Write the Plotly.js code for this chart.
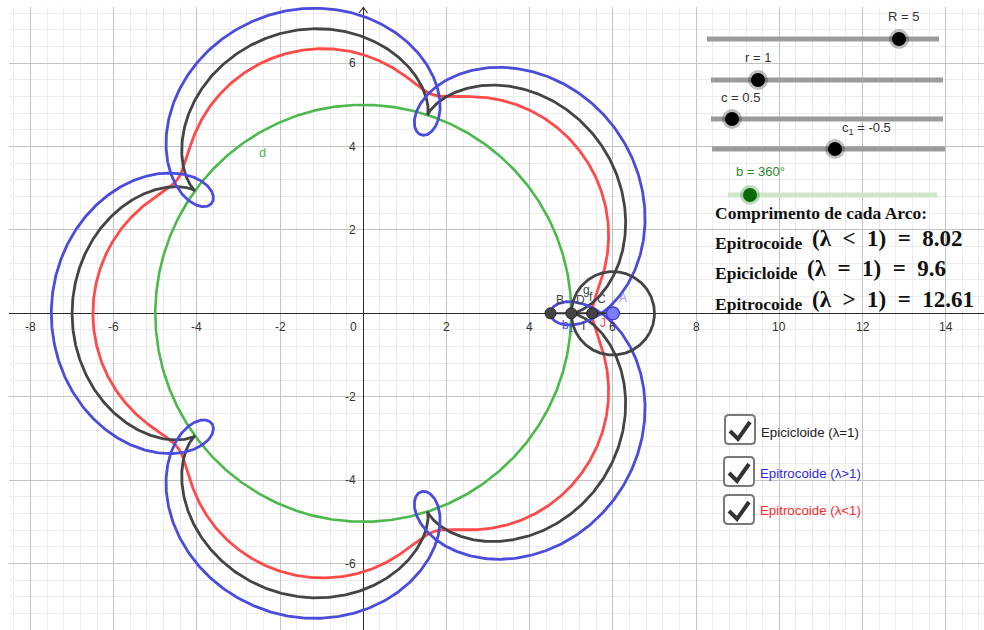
<!DOCTYPE html>
<html>
<head>
<meta charset="utf-8">
<script src="https://cdn.plot.ly/plotly-3.0.1.min.js"></script>
<style>
  html, body { margin: 0; padding: 0; background: #ffffff; }
  #plot { width: 984px; height: 630px; }
</style>
</head>
<body>
<div id="plot"></div>
<script>
// Slider parameters: fixed circle R, rolling circle r, offsets c and c1, sweep angle b (degrees)
const sliderNames = ['R', 'r', 'c', 'c1', 'b'];
const sliderValues = [5, 1, 0.5, -0.5, 360];

// Arc length summary
const curveNames = ['Epitrocoide', 'Epicicloide', 'Epitrocoide'];
const curveRelations = ['<', '=', '>'];
const arcLengths = [8.02, 9.6, 12.61];

// Checkbox captions
const checkboxLabels = ['Epicicloide (λ=1)', 'Epitrocoide (λ>1)', 'Epitrocoide (λ<1)'];

// Axis tick labels
const xTicks = [-8, -6, -4, -2, 0, 2, 4, 6, 8, 10, 12, 14];
const yTicks = [-6, -4, -2, 2, 4, 6];

// ---------------------------------------------------------------
const [R, r, c, c1, bDeg] = sliderValues;

const COL_BLACK = '#444444';
const COL_RED = '#ff4a4a';
const COL_BLUE = '#4b4bdc';
const COL_GREEN = '#4cb94c';

// Plot frame in page pixels
const W = 984, H = 630, ML = 9, MT = 7;
const PW = W - ML, PH = H - MT;
const px = x => (x - ML) / PW;
const py = y => 1 - (y - MT) / PH;

// Trochoid traced by a point at distance d from the centre of the rolling circle
function epitrochoid(d) {
  const xs = [], ys = [];
  const steps = 1800;
  const tMax = bDeg * Math.PI / 180;
  const k = (R + r) / r;
  for (let i = 0; i <= steps; i++) {
    const t = tMax * i / steps;
    xs.push((R + r) * Math.cos(t) - d * Math.cos(k * t));
    ys.push((R + r) * Math.sin(t) - d * Math.sin(k * t));
  }
  return { xs, ys };
}

function circle(cx, cy, rad) {
  const xs = [], ys = [];
  for (let i = 0; i <= 720; i++) {
    const a = 2 * Math.PI * i / 720;
    xs.push(cx + rad * Math.cos(a));
    ys.push(cy + rad * Math.sin(a));
  }
  return { xs, ys };
}

const dEqual = r;        // λ = 1
const dSmall = r - c;    // λ < 1
const dLarge = r - c1;   // λ > 1

const base = circle(0, 0, R);
const rolling = circle(R + r, 0, r);
const cycEq = epitrochoid(dEqual);
const cycSmall = epitrochoid(dSmall);
const cycLarge = epitrochoid(dLarge);

const centre = R + r;
const ptA = centre, ptD = centre - dEqual, ptC = centre - dSmall, ptB = centre - dLarge;

const traces = [
  { x: base.xs, y: base.ys, mode: 'lines', line: { color: COL_GREEN, width: 2.6 }, hoverinfo: 'skip' },
  { x: cycSmall.xs, y: cycSmall.ys, mode: 'lines', line: { color: COL_RED, width: 2.8 }, hoverinfo: 'skip' },
  { x: cycEq.xs, y: cycEq.ys, mode: 'lines', line: { color: COL_BLACK, width: 2.8 }, hoverinfo: 'skip' },
  { x: cycLarge.xs, y: cycLarge.ys, mode: 'lines', line: { color: COL_BLUE, width: 2.8 }, hoverinfo: 'skip' },
  { x: rolling.xs, y: rolling.ys, mode: 'lines', line: { color: COL_BLACK, width: 2.8 }, hoverinfo: 'skip' },
  // segments from the tracing points to the centre
  { x: [ptB, ptA], y: [0, 0], mode: 'lines', line: { color: '#333333', width: 2 }, hoverinfo: 'skip' },
  // tracing points
  { x: [ptB, ptD, ptC], y: [0, 0, 0], mode: 'markers',
    marker: { size: 11, color: '#444444', line: { color: '#222222', width: 1 } }, hoverinfo: 'skip' },
  // centre of the rolling circle
  { x: [ptA], y: [0], mode: 'markers',
    marker: { size: 13, color: '#7c7cff', line: { color: '#3434c0', width: 1.2 } }, hoverinfo: 'skip' }
];

const annotations = [];
const shapes = [];

const tickFont = { family: 'Liberation Sans, Arial, sans-serif', size: 12, color: '#333333' };

// Axis tick labels drawn next to the axes
xTicks.forEach(v => {
  annotations.push({
    x: v, y: 0, xref: 'x', yref: 'y', text: String(v), showarrow: false,
    xanchor: v === 0 ? 'right' : 'center', yanchor: 'top',
    xshift: v === 0 ? -4 : 0, yshift: -5, font: tickFont
  });
});
yTicks.forEach(v => {
  annotations.push({
    x: 0, y: v, xref: 'x', yref: 'y', text: String(v), showarrow: false,
    xanchor: 'right', yanchor: 'middle', xshift: -5, font: tickFont
  });
});

// y-axis arrow head
shapes.push({
  type: 'path', xref: 'paper', yref: 'paper',
  path: `M ${px(359)} ${py(13)} L ${px(363.3)} ${py(7.5)} L ${px(367.6)} ${py(13)}`,
  line: { color: '#333333', width: 1.2 }
});

// Labels around the tracing points (offsets in pixels: right, up)
const ptFont = (col, sz) => ({ family: 'Liberation Sans, Arial, sans-serif', size: sz || 12, color: col });
[
  ['B', ptB, 9, 13, '#444444'],
  ['D', ptD, 9, 13, '#444444'],
  ['g', ptD, 15, 23, '#444444'],
  ['f', ptC, -1, 16, '#444444'],
  ['C', ptC, 9, 14, '#444444'],
  ['A', ptA, 10, 15, '#9a9aff'],
  ['b<sub>1</sub>', ptD, -3, -13, COL_BLUE],
  ['I', ptC, -9, -13, '#444444'],
  ['J', ptC, 11, -10, COL_RED]
].forEach(([t, xv, dx, dy, col]) => {
  annotations.push({
    x: xv, y: 0, xref: 'x', yref: 'y', text: t, showarrow: false,
    xanchor: 'center', yanchor: 'middle', xshift: dx, yshift: dy,
    font: ptFont(col, 12)
  });
});

// Label of the fixed circle
annotations.push({
  x: -2.42, y: 3.85, xref: 'x', yref: 'y',
  text: 'd', showarrow: false, font: ptFont(COL_GREEN, 13)
});

// Sliders
const sliderGeom = [
  { x0: 707, x1: 939, y: 39, knob: 899, lx: 903, ly: 16 },
  { x0: 711, x1: 943, y: 80, knob: 758, lx: 758, ly: 58 },
  { x0: 711, x1: 943, y: 119, knob: 732, lx: 740, ly: 97 },
  { x0: 712, x1: 945, y: 149, knob: 835, lx: 866, ly: 128 },
  { x0: 728, x1: 937, y: 195, knob: 750, lx: 760, ly: 172 }
];
const sliderLabels = ['R = ' + R, 'r = ' + r, 'c = ' + c, 'c<sub>1</sub> = ' + c1, 'b = ' + bDeg + '°'];
sliderGeom.forEach((g, i) => {
  const green = i === 4;
  shapes.push({
    type: 'line', xref: 'paper', yref: 'paper',
    x0: px(g.x0), x1: px(g.x1), y0: py(g.y), y1: py(g.y),
    line: { color: green ? '#cfe6c9' : '#9b9b9b', width: 5 }
  });
  const halo = 10, dot = 7;
  shapes.push({
    type: 'circle', xref: 'paper', yref: 'paper',
    x0: px(g.knob - halo), x1: px(g.knob + halo), y0: py(g.y + halo), y1: py(g.y - halo),
    fillcolor: green ? 'rgba(0,110,0,0.25)' : 'rgba(0,0,0,0.25)', line: { width: 0 }
  });
  shapes.push({
    type: 'circle', xref: 'paper', yref: 'paper',
    x0: px(g.knob - dot), x1: px(g.knob + dot), y0: py(g.y + dot), y1: py(g.y - dot),
    fillcolor: green ? '#0b6b0b' : '#000000', line: { width: 0 }
  });
  annotations.push({
    x: px(g.lx), y: py(g.ly), xref: 'paper', yref: 'paper', text: sliderLabels[i],
    showarrow: false, xanchor: 'center', yanchor: 'middle',
    font: { family: 'Liberation Sans, Arial, sans-serif', size: 13, color: green ? '#2a8a2a' : '#333333' }
  });
});

// Arc length text block
const serifBold = (sz) => ({ family: 'Liberation Serif, Times New Roman, serif', size: sz, color: '#111111', weight: 'bold' });
annotations.push({
  x: px(713), y: py(213), xref: 'paper', yref: 'paper', text: '<b>Comprimento de cada Arco:</b>',
  showarrow: false, xanchor: 'left', yanchor: 'middle', font: serifBold(17.5)
});
const rowY = [241, 271, 302];
const formulaX = [810, 805, 810];
const sp = '\u2002';
curveNames.forEach((nm, i) => {
  annotations.push({
    x: px(713), y: py(rowY[i] + 2), xref: 'paper', yref: 'paper', text: '<b>' + nm + '</b>',
    showarrow: false, xanchor: 'left', yanchor: 'middle', font: serifBold(17.5)
  });
  const rel = curveRelations[i] === '<' ? '&lt;' : (curveRelations[i] === '>' ? '&gt;' : '=');
  annotations.push({
    x: px(formulaX[i]), y: py(rowY[i] - 3), xref: 'paper', yref: 'paper',
    text: '<b>(λ' + sp + rel + sp + '1)' + sp + '=' + sp + arcLengths[i] + '</b>',
    showarrow: false, xanchor: 'left', yanchor: 'middle', font: serifBold(23)
  });
});

// Checkboxes
const boxGeom = [
  { x0: 725, y0: 415, col: '#222222', ty: 432 },
  { x0: 724, y0: 457, col: '#2a2ae6', ty: 473 },
  { x0: 724, y0: 495, col: '#ff2a2a', ty: 510 }
];
function roundRect(x0, y0, w, h, rr) {
  const x1 = x0 + w, y1 = y0 + h;
  const P = (x, y) => `${px(x)} ${py(y)}`;
  return `M ${P(x0 + rr, y0)} L ${P(x1 - rr, y0)} Q ${P(x1, y0)} ${P(x1, y0 + rr)} ` +
         `L ${P(x1, y1 - rr)} Q ${P(x1, y1)} ${P(x1 - rr, y1)} L ${P(x0 + rr, y1)} ` +
         `Q ${P(x0, y1)} ${P(x0, y1 - rr)} L ${P(x0, y0 + rr)} Q ${P(x0, y0)} ${P(x0 + rr, y0)} Z`;
}
boxGeom.forEach((g, i) => {
  shapes.push({
    type: 'path', xref: 'paper', yref: 'paper', path: roundRect(g.x0, g.y0, 30, 29, 4),
    fillcolor: '#ffffff', line: { color: '#7a7a7a', width: 2 }
  });
  shapes.push({
    type: 'path', xref: 'paper', yref: 'paper',
    path: `M ${px(g.x0 + 5)} ${py(g.y0 + 16)} L ${px(g.x0 + 13)} ${py(g.y0 + 24)} L ${px(g.x0 + 25)} ${py(g.y0 + 7)}`,
    line: { color: '#333333', width: 4 }
  });
  annotations.push({
    x: px(g.x0 + 34), y: py(g.ty), xref: 'paper', yref: 'paper', text: checkboxLabels[i],
    showarrow: false, xanchor: 'left', yanchor: 'middle',
    font: { family: 'Liberation Sans, Arial, sans-serif', size: 13.3, color: g.col }
  });
});

const layout = {
  width: W, height: H,
  margin: { l: ML, r: 0, t: MT, b: 0, pad: 0 },
  paper_bgcolor: '#ffffff', plot_bgcolor: '#ffffff',
  showlegend: false,
  xaxis: {
    range: [(ML - 363.3) / 41.6, (W - 363.3) / 41.6],
    tick0: 0, dtick: 2, showticklabels: false, ticks: '',
    showgrid: true, gridcolor: '#c4c4c4', gridwidth: 1,
    minor: { dtick: 0.4, tick0: 0, showgrid: true, gridcolor: '#ececec', gridwidth: 1 },
    zeroline: true, zerolinecolor: '#2b2b2b', zerolinewidth: 1.5,
    showline: false, fixedrange: true
  },
  yaxis: {
    range: [-(H - 313.3) / 41.7, (313.3 - MT) / 41.7],
    tick0: 0, dtick: 2, showticklabels: false, ticks: '',
    showgrid: true, gridcolor: '#c4c4c4', gridwidth: 1,
    minor: { dtick: 0.4, tick0: 0, showgrid: true, gridcolor: '#ececec', gridwidth: 1 },
    zeroline: true, zerolinecolor: '#2b2b2b', zerolinewidth: 1.5,
    showline: false, fixedrange: true
  },
  annotations: annotations,
  shapes: shapes
};

Plotly.newPlot('plot', traces, layout, { displayModeBar: false, staticPlot: true });
</script>
</body>
</html>
